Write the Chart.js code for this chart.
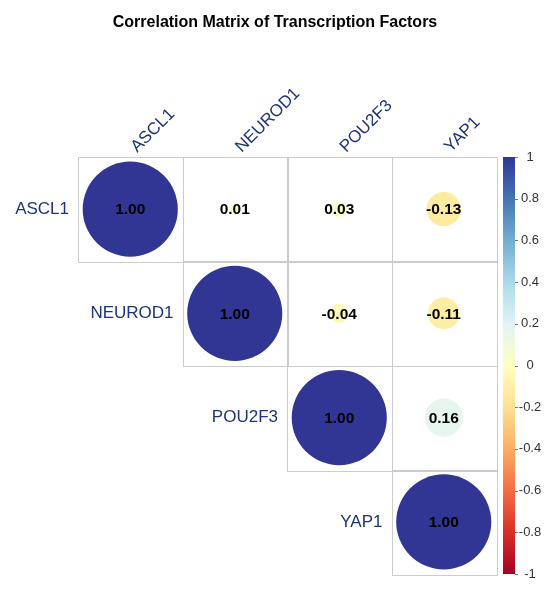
<!DOCTYPE html>
<html><head><meta charset="utf-8">
<script src="https://cdn.jsdelivr.net/npm/chart.js@4.4.1/dist/chart.umd.min.js"></script>
<style>html,body{margin:0;padding:0;background:#fff;} canvas{display:block;}</style>
</head><body>
<canvas id="c" width="550" height="592"></canvas>
<script>
const titleText = 'Correlation Matrix of Transcription Factors';
const factors = ['ASCL1', 'NEUROD1', 'POU2F3', 'YAP1'];
const rowASCL1 = [1.00, 0.01, 0.03, -0.13];
const rowNEUROD1 = [null, 1.00, -0.04, -0.11];
const rowPOU2F3 = [null, null, 1.00, 0.16];
const rowYAP1 = [null, null, null, 1.00];
const colorbarTicks = [1, 0.8, 0.6, 0.4, 0.2, 0, -0.2, -0.4, -0.6, -0.8, -1];
const paletteStops = ['#A50026','#D73027','#F46D43','#FDAE61','#FEE090','#FFFFBF','#E0F3F8','#ABD9E9','#74ADD1','#4575B4','#313695'];

const rows = [rowASCL1, rowNEUROD1, rowPOU2F3, rowYAP1];
const FONT = '"Liberation Sans", Arial, Helvetica, sans-serif';

function hexToRgb(h) { const n = parseInt(h.slice(1), 16); return [(n >> 16) & 255, (n >> 8) & 255, n & 255]; }
function colorFor(v) {
  const t = (v + 1) / 2 * (paletteStops.length - 1);
  const i = Math.min(Math.floor(t), paletteStops.length - 2);
  const f = t - i;
  const a = hexToRgb(paletteStops[i]), b = hexToRgb(paletteStops[i + 1]);
  const c = a.map((x, k) => Math.round(x + (b[k] - x) * f));
  return `rgb(${c[0]},${c[1]},${c[2]})`;
}

const points = [];
rows.forEach((r, i) => r.forEach((v, j) => { if (v !== null) points.push({ x: j, y: i, v: v }); }));

function cellSize(chart) {
  const s = chart.scales.x;
  return Math.abs(s.getPixelForValue(1) - s.getPixelForValue(0));
}

const decor = {
  id: 'decor',
  beforeDatasetsDraw(chart) {
    const ctx = chart.ctx, xs = chart.scales.x, ys = chart.scales.y;
    const cs = cellSize(chart);
    ctx.save();
    // title
    ctx.fillStyle = '#000';
    ctx.font = 'bold 16px ' + FONT;
    ctx.textAlign = 'center';
    ctx.textBaseline = 'alphabetic';
    ctx.fillText(titleText, chart.width / 2, 27);
    // grid cells
    ctx.strokeStyle = '#CCCCCC';
    ctx.lineWidth = 1;
    rows.forEach((r, i) => r.forEach((v, j) => {
      if (v === null) return;
      const x0 = xs.getPixelForValue(j - 0.5), y0 = ys.getPixelForValue(i - 0.5);
      ctx.strokeRect(Math.round(x0) + 0.5, Math.round(y0) + 0.5, Math.round(cs), Math.round(cs));
    }));
    // column labels
    ctx.fillStyle = '#1E3478';
    ctx.font = '17px ' + FONT;
    factors.forEach((lab, j) => {
      ctx.save();
      ctx.translate(xs.getPixelForValue(j) + 7, chart.chartArea.top - 4);
      ctx.rotate(-Math.PI / 4);
      ctx.textAlign = 'left';
      ctx.textBaseline = 'alphabetic';
      ctx.fillText(lab, 0, 0);
      ctx.restore();
    });
    // row labels
    ctx.textAlign = 'right';
    ctx.textBaseline = 'middle';
    factors.forEach((lab, i) => {
      ctx.fillText(lab, xs.getPixelForValue(i - 0.5) - 9, ys.getPixelForValue(i));
    });
    // colorbar
    const top = chart.chartArea.top, bot = chart.chartArea.bottom;
    const cbx = chart.chartArea.right + 7, cbw = 12;
    const g = ctx.createLinearGradient(0, bot, 0, top);
    paletteStops.forEach((c, k) => g.addColorStop(k / (paletteStops.length - 1), c));
    ctx.fillStyle = g;
    ctx.fillRect(cbx, top, cbw, bot - top);
    ctx.strokeStyle = '#777';
    ctx.fillStyle = '#333';
    ctx.font = '13px ' + FONT;
    ctx.textAlign = 'center';
    ctx.textBaseline = 'middle';
    colorbarTicks.forEach(t => {
      const y = bot - (t + 1) / 2 * (bot - top);
      ctx.beginPath();
      ctx.moveTo(cbx + cbw, Math.round(y) + 0.5);
      ctx.lineTo(cbx + cbw + 3, Math.round(y) + 0.5);
      ctx.stroke();
      ctx.fillText(String(t), cbx + cbw + 15, y);
    });
    ctx.restore();
  },
  afterDatasetsDraw(chart) {
    const ctx = chart.ctx, xs = chart.scales.x, ys = chart.scales.y;
    ctx.save();
    ctx.fillStyle = '#000';
    ctx.font = 'bold 15.5px ' + FONT;
    ctx.textAlign = 'center';
    ctx.textBaseline = 'middle';
    points.forEach(p => {
      ctx.fillText(p.v.toFixed(2), xs.getPixelForValue(p.x), ys.getPixelForValue(p.y) + 1);
    });
    ctx.restore();
  }
};

new Chart(document.getElementById('c'), {
  type: 'scatter',
  data: {
    datasets: [{
      data: points,
      pointRadius: ctx => Math.sqrt(Math.abs(ctx.raw.v)) * cellSize(ctx.chart) * 0.455,
      pointHoverRadius: ctx => Math.sqrt(Math.abs(ctx.raw.v)) * cellSize(ctx.chart) * 0.455,
      pointBackgroundColor: ctx => colorFor(ctx.raw.v),
      pointBorderWidth: 0,
      borderWidth: 0
    }]
  },
  options: {
    responsive: false,
    animation: false,
    events: [],
    layout: { padding: { left: 78, top: 157, right: 54, bottom: 18 } },
    plugins: { legend: { display: false }, tooltip: { enabled: false }, title: { display: false } },
    scales: {
      x: { type: 'linear', min: -0.5, max: 3.5, display: false },
      y: { type: 'linear', min: -0.5, max: 3.5, reverse: true, display: false }
    }
  },
  plugins: [decor]
});
</script>
</body></html>
